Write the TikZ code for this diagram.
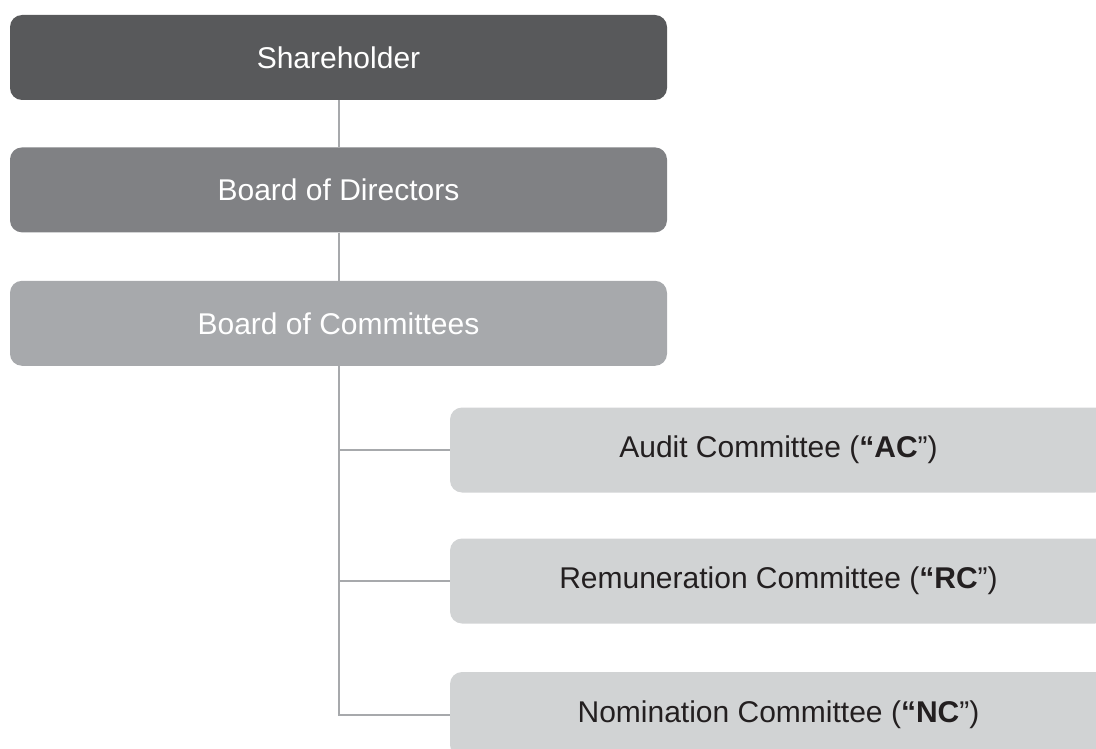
\documentclass[tikz,border=0pt]{standalone}
\usepackage{fontspec}
\setmainfont{Liberation Sans}
\usetikzlibrary{positioning}
\usepackage{xcolor}
\definecolor{shareGray}{HTML}{58595B}
\definecolor{boardGray}{HTML}{808184}
\definecolor{commGray}{HTML}{A7A9AC}
\definecolor{subGray}{HTML}{D1D3D4}
\definecolor{textDark}{HTML}{231F20}

\begin{document}
\begin{tikzpicture}
[x=1pt, y=-1pt, node distance=47pt,
% The level style is used to draw the three boards on the left
level/.style={rectangle, rounded corners=12pt, minimum width=657pt, minimum height=85pt, inner sep=0pt, text=white, font=\fontsize{30}{36}\selectfont},
% The committee style is used to draw the committees' name
committee/.style={level, fill=subGray, text=textDark},
% The link style is used to draw the connectors
link/.style={draw=commGray, line width=2pt}
]
\useasboundingbox (0,0) rectangle (1096,749);
\clip (0,0) rectangle (1096,749);
% Draw boards
\node[level, fill=shareGray] (share) at (338.5,57.5) {Shareholder};
\node[level, fill=boardGray, below=of share] (board) {Board of Directors};
\node[level, fill=commGray, below=48pt of board] (comm) {Board of Committees};
% Draw committees
\node[committee] (ac) at (778.5,450) {Audit Committee (\textbf{“AC}”)};
\node[committee] (rc) at (778.5,581) {Remuneration Committee (\textbf{“RC}”)};
\node[committee] (nc) at (778.5,714.5) {Nomination Committee (\textbf{“NC}”)};
% Draw connectors
\draw[link] (share) -- (board);
\draw[link] (board) -- (comm);
\draw[link] (comm.south) -- (comm.south |- nc.west) -- (nc.west);
\draw[link] (comm.south |- ac.west) -- (ac.west);
\draw[link] (comm.south |- rc.west) -- (rc.west);
\end{tikzpicture}
\end{document}
